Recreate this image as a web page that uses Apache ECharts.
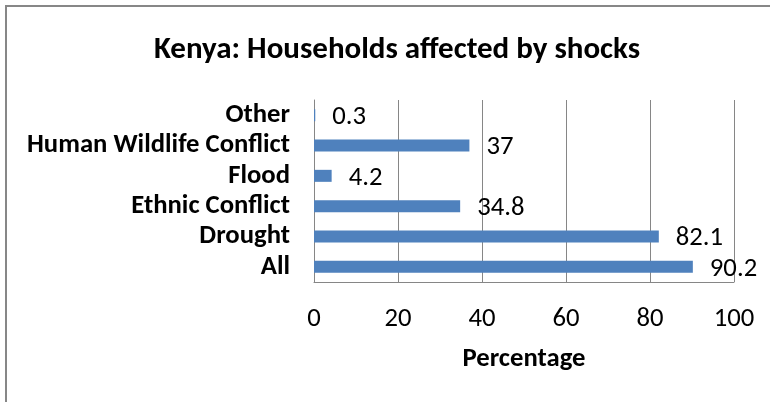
<!DOCTYPE html>
<html>
<head>
<meta charset="utf-8">
<script src="https://cdn.jsdelivr.net/npm/echarts@6/dist/echarts.min.js"></script>
<style>
  html, body { margin: 0; padding: 0; background: #fff; }
  #chart { width: 770px; height: 402px; }
</style>
</head>
<body>
<div id="chart"></div>
<script>
// Shock categories, listed bottom-to-top as drawn on the category axis
const categories = ['All', 'Drought', 'Ethnic Conflict', 'Flood', 'Human Wildlife Conflict', 'Other'];
// Share of households affected (%)
const percentages = [90.2, 82.1, 34.8, 4.2, 37, 0.3];
// Value axis range and step
const axisMin = 0;
const axisMax = 100;
const axisStep = 20;

const FONT = 'Carlito, Lato, sans-serif';

const chart = echarts.init(document.getElementById('chart'), null, { renderer: 'canvas' });
chart.setOption({
  animation: false,
  backgroundColor: '#ffffff',
  title: {
    text: 'Kenya: Households affected by shocks',
    left: 392,
    textAlign: 'center',
    top: 30,
    textStyle: { fontFamily: FONT, fontWeight: 'bold', fontSize: 31, color: '#000' }
  },
  graphic: [{
    type: 'rect',
    shape: { x: 6, y: 6, width: 820, height: 440 },
    style: { fill: 'none', stroke: '#878787', lineWidth: 2 },
    silent: true,
    z: -1
  }],
  grid: { left: 314, right: 36, top: 100, bottom: 120, containLabel: false },
  xAxis: {
    type: 'value',
    min: axisMin,
    max: axisMax,
    interval: axisStep,
    name: 'Percentage',
    nameLocation: 'middle',
    nameGap: 64,
    nameTextStyle: { fontFamily: FONT, fontWeight: 'bold', fontSize: 26.7, color: '#000' },
    axisLine: { show: true, lineStyle: { color: '#868686', width: 1 } },
    axisTick: { show: false },
    axisLabel: { margin: 24, fontFamily: FONT, fontSize: 26.7, color: '#000' },
    splitLine: { show: true, lineStyle: { color: '#868686', width: 1 } }
  },
  yAxis: {
    type: 'category',
    data: categories,
    axisLine: { show: true, lineStyle: { color: '#868686', width: 1 } },
    axisTick: { show: false },
    axisLabel: { interval: 0, margin: 24, fontFamily: FONT, fontWeight: 'bold', fontSize: 26.7, color: '#000' }
  },
  series: [{
    type: 'bar',
    data: percentages,
    barWidth: 12,
    itemStyle: { color: '#4F81BD' },
    label: {
      show: true,
      position: 'right',
      distance: 17,
      offset: [0, 2],
      fontFamily: FONT,
      fontSize: 26.7,
      color: '#000'
    }
  }]
});
</script>
</body>
</html>
